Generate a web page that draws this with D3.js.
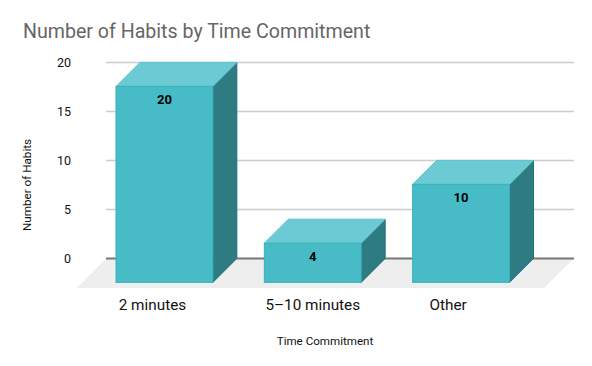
<!doctype html>
<html lang="en">
<head>
<meta charset="UTF-8">
<title>Number of Habits by Time Commitment</title>
<style>
  body{ margin: 0; background: #fff; }
  svg{ display: block; }
  text{ font-family: Roboto, "Noto Sans", sans-serif; }
  .axis path{ display: none; }
  .axis line{ display: none; }
  .y.axis text{ font-size: 12.5px; fill: #111; }
  .x.axis text{ font-size: 15.3px; fill: #111; }
  .grid{ stroke: #ccc; stroke-width: 1.5px; }
  .grid.zero{ stroke: #777; stroke-width: 2px; }
  .front{ fill: #47bcc7; stroke: #38b2bd; stroke-width: 1px; }
  .top{ fill: #6bcad3; stroke: #5cc2cc; stroke-width: 1px; }
  .side{ fill: #2e7b81; stroke: #27727a; stroke-width: 1px; }
  .value{ font-size: 13px; font-weight: 700; fill: #000; text-anchor: middle; }
</style>
</head>
<body>
<script src="https://d3js.org/d3.v7.min.js"></script>
<script>
var categories = ["2 minutes", "5\u201310 minutes", "Other"];
var habits = [20, 4, 10];
var yTicks = [0, 5, 10, 15, 20];

var width = 592, height = 366;
var depth = 24; // how far the bars and floor are pushed forward
var labelShift = [-12, 0, -13]; // the category labels do not sit centred under the bars

var xScale = d3.scaleBand()
    .domain(categories)
    .range([116, 509.5])
    .paddingInner(0.347)
    .paddingOuter(0);

var yScale = d3.scaleLinear()
    .domain([0, 20])
    .range([258.4, 62.4]);

var svg = d3.select("body").append("svg")
    .attr("width", width)
    .attr("height", height);

svg.append("text")
    .attr("x", 23)
    .attr("y", 38)
    .style("font-size", "19.6px")
    .style("fill", "#666")
    .text("Number of Habits by Time Commitment");

// floor
svg.append("path")
    .attr("fill", "#eee")
    .attr("d", "M106," + yScale(0) + "L574," + yScale(0) + "L544,288L77,288Z");

svg.selectAll("line.grid")
    .data(yTicks)
  .enter().append("line")
    .attr("class", function(d){ return d === 0 ? "grid zero" : "grid"; })
    .attr("x1", 106)
    .attr("x2", 574)
    .attr("y1", function(d){ return yScale(d); })
    .attr("y2", function(d){ return yScale(d); });

var yAxis = d3.axisLeft()
    .scale(yScale)
    .tickValues(yTicks)
    .tickSize(0)
    .tickPadding(0);

svg.append("g")
    .attr("class", "y axis")
    .attr("transform", "translate(71,0)")
    .call(yAxis);

var xAxis = d3.axisBottom()
    .scale(xScale)
    .tickSize(0)
    .tickPadding(0);

svg.append("g")
    .attr("class", "x axis")
    .attr("transform", "translate(0,299)")
    .call(xAxis)
  .selectAll("text")
    .attr("dx", function(d, i){ return labelShift[i]; });

var bars = svg.selectAll("g.bar")
    .data(habits)
  .enter().append("g")
    .attr("class", "bar");

function left(i){ return xScale(categories[i]); }
function right(i){ return left(i) + xScale.bandwidth(); }
function frontTop(d){ return yScale(d) + depth; }
var frontBottom = yScale(0) + depth;

bars.append("path")
    .attr("class", "side")
    .attr("d", function(d, i){
      return "M" + right(i) + "," + frontTop(d) +
        "L" + (right(i) + depth) + "," + yScale(d) +
        "L" + (right(i) + depth) + "," + yScale(0) +
        "L" + right(i) + "," + frontBottom + "Z";
    });

bars.append("path")
    .attr("class", "top")
    .attr("d", function(d, i){
      return "M" + left(i) + "," + frontTop(d) +
        "L" + (left(i) + depth) + "," + yScale(d) +
        "L" + (right(i) + depth) + "," + yScale(d) +
        "L" + right(i) + "," + frontTop(d) + "Z";
    });

bars.append("rect")
    .attr("class", "front")
    .attr("x", function(d, i){ return left(i); })
    .attr("y", function(d){ return frontTop(d); })
    .attr("width", xScale.bandwidth())
    .attr("height", function(d){ return frontBottom - frontTop(d); });

bars.append("text")
    .attr("class", "value")
    .attr("x", function(d, i){ return left(i) + xScale.bandwidth() / 2; })
    .attr("y", function(d){ return frontTop(d) + 18; })
    .text(function(d){ return d; });

svg.append("text")
    .attr("transform", "translate(30.5,185) rotate(-90)")
    .attr("text-anchor", "middle")
    .style("font-size", "11.7px")
    .style("fill", "#111")
    .text("Number of Habits");

svg.append("text")
    .attr("x", 325)
    .attr("y", 345)
    .attr("text-anchor", "middle")
    .style("font-size", "11.6px")
    .style("fill", "#111")
    .text("Time Commitment");
</script>
</body>
</html>
